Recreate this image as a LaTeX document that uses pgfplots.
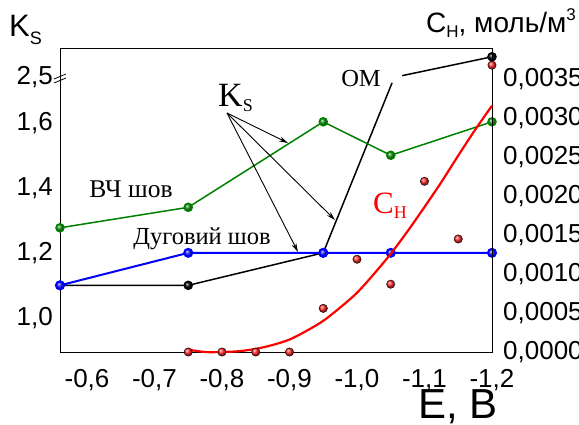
\documentclass[border=0pt]{standalone}
\usepackage{pgfplots}
\pgfplotsset{compat=1.18}
\usepackage{fontspec}
\setmainfont{Liberation Serif}
\setsansfont{Liberation Sans}
\usetikzlibrary{arrows.meta}
\definecolor{dgreen}{RGB}{0,128,0}
\begin{document}
\begin{tikzpicture}
\useasboundingbox (0,0) rectangle (579pt,424pt);
\begin{axis}[
  at={(60pt,72pt)}, anchor=south west,
  scale only axis, width=432pt, height=304pt,
  x dir=reverse, xmin=-1.2, xmax=-0.56,
  ymin=0.895, ymax=1.83,
  xtick pos=lower, ytick pos=left,
  major tick length=0pt,
  xtick={-0.6,-0.7,-0.8,-0.9,-1.0,-1.1,-1.2},
  xticklabels={{-0,6},{-0,7},{-0,8},{-0,9},{-1,0},{-1,1},{-1,2}},
  ytick={1.0,1.2,1.4,1.6,1.742},
  yticklabels={{1,0},{1,2},{1,4},{1,6},{2,5}},
  tick label style={font=\fontsize{26}{28}\selectfont\sffamily},
  yticklabel style={anchor=east, inner sep=0pt, xshift=-7pt},
  xticklabel style={anchor=north, inner sep=0pt, yshift=-17pt},
  axis line style={line width=0.8pt},
  clip=false,
]
\addplot[black, line width=1.5pt, mark=ball, mark size=4pt, mark options={ball color=black}]
  coordinates {(-0.56,1.10)(-0.75,1.10)(-0.95,1.2)};
\addplot[black, line width=1.5pt] coordinates {(-0.95,1.2)(-1.052,1.723)};
\addplot[black, line width=1.5pt, mark=ball, mark size=4pt, mark options={ball color=black}, mark indices={2}]
  coordinates {(-1.067,1.745)(-1.2,1.803)};
\addplot[dgreen, line width=1.5pt, mark=ball, mark size=4pt, mark options={ball color=dgreen!90!white}]
  coordinates {(-0.56,1.277)(-0.75,1.34)(-0.95,1.603)(-1.05,1.50)(-1.2,1.603)};
\addplot[blue, line width=2pt, mark=ball, mark size=4pt, mark options={ball color=blue!90!white}]
  coordinates {(-0.56,1.10)(-0.75,1.2)(-0.95,1.2)(-1.05,1.2)(-1.2,1.2)};
\end{axis}
\begin{axis}[
  at={(60pt,72pt)}, anchor=south west,
  scale only axis, width=432pt, height=304pt,
  x dir=reverse, xmin=-1.2, xmax=-0.56,
  ymin=0, ymax=0.0039,
  hide x axis,
  axis y line*=right,
  scaled y ticks=false,
  major tick length=0pt,
  ytick={0,0.0005,0.001,0.0015,0.002,0.0025,0.003,0.0035},
  yticklabels={{0,0000},{0,0005},{0,0010},{0,0015},{0,0020},{0,0025},{0,0030},{0,0035}},
  tick label style={font=\fontsize{26}{28}\selectfont\sffamily},
  yticklabel style={anchor=west, inner sep=0pt, xshift=11pt},
  axis line style={line width=0.8pt},
  clip=false,
]
\addplot[red, line width=2.2pt, smooth] coordinates {
  (-0.75,0.00003)(-0.775,0.00000)(-0.80,0.0)(-0.825,0.00001)(-0.85,0.00004)
  (-0.875,0.00009)(-0.90,0.00016)(-0.925,0.00027)(-0.95,0.00040)(-0.975,0.00057)
  (-1.00,0.00076)(-1.025,0.00100)(-1.05,0.00126)(-1.075,0.00155)(-1.10,0.00186)
  (-1.125,0.00218)(-1.15,0.00252)(-1.175,0.00285)(-1.20,0.00316)};
\addplot[only marks, mark=ball, mark size=4.2pt, mark options={ball color=red!85!white}] coordinates {
  (-0.75,0)(-0.8,0)(-0.85,0)(-0.9,0)(-0.95,0.00056)(-1.0,0.00119)(-1.05,0.00087)
  (-1.1,0.00219)(-1.15,0.00145)(-1.2,0.00368)};
\end{axis}
% break marks
\draw[line width=0.8pt] (54pt,341pt) -- (66pt,346pt);
\draw[line width=0.8pt] (54pt,345pt) -- (66pt,350pt);
% axis titles
\node[anchor=base west, inner sep=0pt, font=\sffamily] at (9pt,387pt)
  {\fontsize{31}{33}\selectfont K\raisebox{-8pt}{\fontsize{18}{18}\selectfont S}};
\node[anchor=base west, inner sep=0pt, font=\sffamily] at (426pt,391pt)
  {\fontsize{28}{30}\selectfont C\raisebox{-5pt}{\fontsize{17}{17}\selectfont H}, моль/м\raisebox{12pt}{\fontsize{17}{17}\selectfont 3}};
\node[anchor=base west, inner sep=0pt, font=\sffamily] at (418pt,6pt)
  {\fontsize{42}{44}\selectfont E, В};
% annotations
\node[anchor=center, inner sep=0pt] at (131pt,235pt) {\fontsize{25.5}{27}\selectfont ВЧ шов};
\node[anchor=center, inner sep=0pt] at (202pt,185pt) {\fontsize{24.5}{26}\selectfont Дуговий шов};
\node[anchor=center, inner sep=0pt] at (361pt,345pt) {\fontsize{24.5}{26}\selectfont ОМ};
\node[anchor=base west, inner sep=0pt] at (218pt,317pt)
  {\fontsize{34}{36}\selectfont K\raisebox{-5pt}{\fontsize{18}{18}\selectfont S}};
\node[anchor=base west, inner sep=0pt, text=red] at (373pt,211pt)
  {\fontsize{31}{33}\selectfont C\raisebox{-5pt}{\fontsize{18}{18}\selectfont H}};
\draw[line width=0.9pt, -{Stealth[length=9pt,width=5pt]}] (227pt,311pt) -- (288pt,281pt);
\draw[line width=0.9pt, -{Stealth[length=9pt,width=5pt]}] (227pt,311pt) -- (335pt,204pt);
\draw[line width=0.9pt, -{Stealth[length=9pt,width=5pt]}] (227pt,311pt) -- (298pt,172pt);
\end{tikzpicture}
\end{document}
